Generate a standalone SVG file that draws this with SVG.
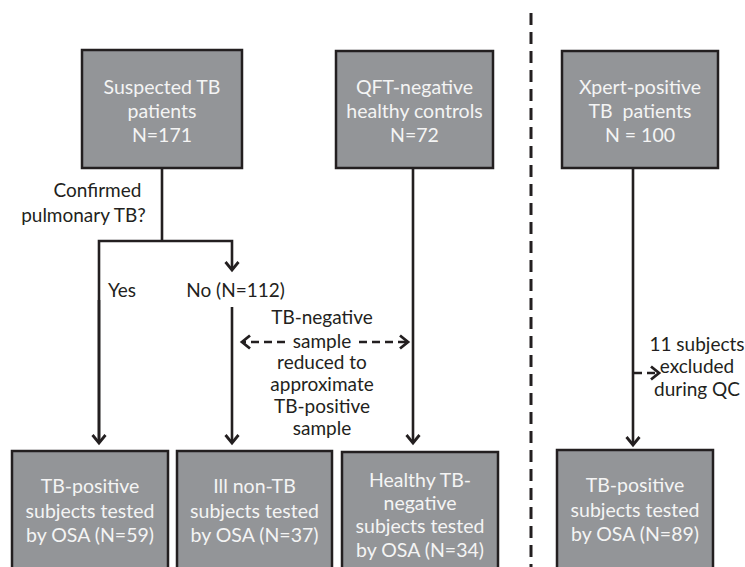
<svg xmlns="http://www.w3.org/2000/svg" width="745" height="567" viewBox="0 0 745 567">
<defs>
<style>
.box{fill:#939598;stroke:#231f20;stroke-width:2.5}
.bt{font-family:Lato,"Open Sans","Liberation Sans",sans-serif;font-size:19.5px;fill:#f4f4f4;text-anchor:middle}
.lb{font-family:Lato,"Open Sans","Liberation Sans",sans-serif;font-size:19px;fill:#231f20;text-anchor:middle}
.ln{fill:none;stroke:#231f20;stroke-width:2.6}
.dl{fill:none;stroke:#231f20;stroke-width:2.6;stroke-dasharray:8 5}
.sep{fill:none;stroke:#231f20;stroke-width:3;stroke-dasharray:12 7}
</style>
<marker id="ah" markerUnits="userSpaceOnUse" markerWidth="20" markerHeight="20" viewBox="-10 -10 20 20" refX="0" refY="0" orient="auto">
<path d="M-8,-6.5 L0,0 L-8,6.5" fill="none" stroke="#231f20" stroke-width="2.8"/>
</marker>
</defs>
<rect width="745" height="567" fill="#ffffff"/>

<g id="sep">
<line class="sep" x1="531" y1="13" x2="531" y2="567"/>
</g>

<g id="connectors">
<polyline class="ln" points="162,168 162,241"/>
<polyline class="ln" points="99,443 99,241 232,241 232,270" marker-end="url(#ah)"/>
<line class="ln" x1="99" y1="300" x2="99" y2="443" marker-end="url(#ah)"/>
<line class="ln" x1="232" y1="307" x2="232" y2="443" marker-end="url(#ah)"/>
<line class="ln" x1="413" y1="168" x2="413" y2="443" marker-end="url(#ah)"/>
<line class="ln" x1="633" y1="168" x2="633" y2="445" marker-end="url(#ah)"/>
<line class="dl" x1="285" y1="342" x2="242" y2="342" marker-end="url(#ah)"/>
<line class="dl" x1="359" y1="342" x2="408" y2="342" marker-end="url(#ah)"/>
<line class="dl" x1="634" y1="373" x2="659" y2="373" marker-end="url(#ah)"/>
</g>

<g id="labels">
<text class="lb" x="97.5" y="197">Confirmed</text>
<text class="lb" x="83.5" y="222">pulmonary TB?</text>
<text class="lb" x="122" y="297">Yes</text>
<text class="lb" x="235.5" y="297">No (N=112)</text>
<text class="lb" x="322" y="324">TB-negative</text>
<text class="lb" x="322" y="348">sample</text>
<text class="lb" x="322" y="369">reduced to</text>
<text class="lb" x="322" y="391">approximate</text>
<text class="lb" x="322" y="413">TB-positive</text>
<text class="lb" x="322" y="435">sample</text>
<text class="lb" x="697" y="351">11 subjects</text>
<text class="lb" x="697" y="373">excluded</text>
<text class="lb" x="697" y="396">during QC</text>
</g>

<g id="n1">
<rect class="box" x="82" y="50" width="160" height="118"/>
<text class="bt" x="162" y="94">Suspected TB</text>
<text class="bt" x="162" y="118">patients</text>
<text class="bt" x="162" y="142">N=171</text>
</g>
<g id="n2">
<rect class="box" x="336" y="51" width="157" height="117"/>
<text class="bt" x="414.5" y="94">QFT-negative</text>
<text class="bt" x="414.5" y="118">healthy controls</text>
<text class="bt" x="414.5" y="142">N=72</text>
</g>
<g id="n3">
<rect class="box" x="562" y="51" width="156" height="117"/>
<text class="bt" x="640" y="94">Xpert-positive</text>
<text class="bt" x="640" y="118" xml:space="preserve">TB  patients</text>
<text class="bt" x="640" y="142">N = 100</text>
</g>
<g id="nA">
<rect class="box" x="12" y="451" width="156" height="130"/>
<text class="bt" x="90" y="493">TB-positive</text>
<text class="bt" x="90" y="518">subjects tested</text>
<text class="bt" x="90" y="542">by OSA (N=59)</text>
</g>
<g id="nB">
<rect class="box" x="177" y="451" width="155" height="130"/>
<text class="bt" x="254.5" y="493">Ill non-TB</text>
<text class="bt" x="254.5" y="518">subjects tested</text>
<text class="bt" x="254.5" y="542">by OSA (N=37)</text>
</g>
<g id="nC">
<rect class="box" x="342" y="452" width="156" height="130"/>
<text class="bt" x="420" y="487">Healthy TB-</text>
<text class="bt" x="420" y="510">negative</text>
<text class="bt" x="420" y="533">subjects tested</text>
<text class="bt" x="420" y="557">by OSA (N=34)</text>
</g>
<g id="nD">
<rect class="box" x="557" y="450" width="156" height="130"/>
<text class="bt" x="635" y="492">TB-positive</text>
<text class="bt" x="635" y="517">subjects tested</text>
<text class="bt" x="635" y="541">by OSA (N=89)</text>
</g>
</svg>
